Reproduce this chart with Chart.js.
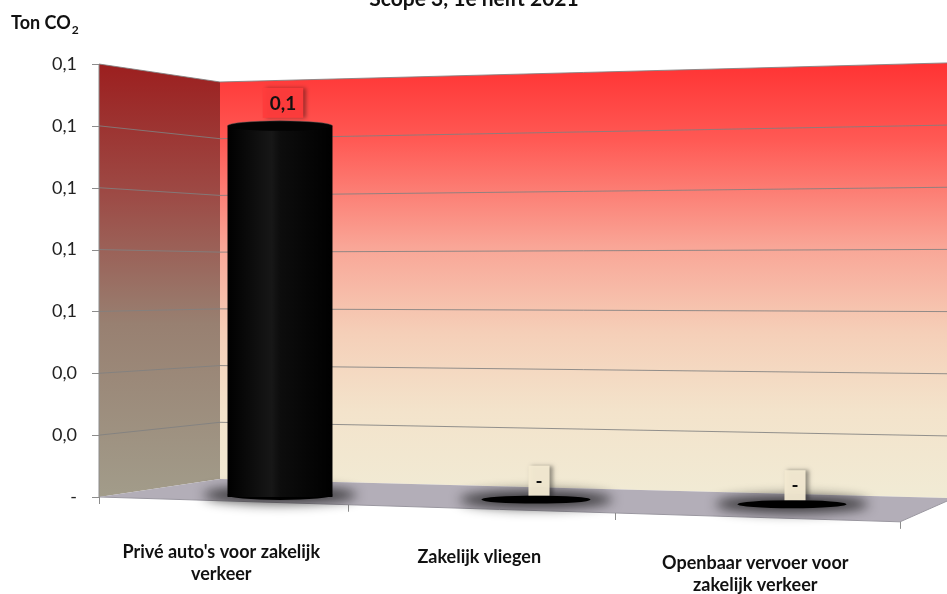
<!DOCTYPE html>
<html>
<head>
<meta charset="utf-8">
<script src="https://cdn.jsdelivr.net/npm/chart.js@4/dist/chart.umd.min.js"></script>
<style>
  html, body { margin: 0; padding: 0; background: #fff; }
</style>
</head>
<body>
<canvas id="chart" width="947" height="594"></canvas>
<script>
// ---- data -------------------------------------------------------------
const chartTitle = 'Scope 3, 1e helft 2021';
const yTitle = 'Ton CO';
const yTitleSub = '2';
const categories = [
  ["Privé auto's voor zakelijk", 'verkeer'],
  ['Zakelijk vliegen'],
  ['Openbaar vervoer voor', 'zakelijk verkeer']
];
const values = [0.12, 0, 0];
const valueLabels = ['0,1', '-', '-'];
const yTickLabels = ['-', '0,0', '0,0', '0,1', '0,1', '0,1', '0,1', '0,1'];
const Y_MAX = 0.14;
const Y_STEP = 0.02;

// ---- look -------------------------------------------------------------
const FONT = 'Lato, "Open Sans", sans-serif';
// 3D box: front-left edge, back-left corner, right edge of the back wall
const SCENE = {
  frontX: 99,
  backX: 220,
  rightX: 947,
  frontRightX: 900,
  backShrink: 0.917,
  rightGrow: 1.005,
  floorSlope: 0.031,
  baseTilt: 0.018
};

function frontOf(chart, xm) {
  // map a mid-depth x to the front edge of the floor (rough perspective)
  const a = chart.chartArea;
  const t = (xm - a.left) / (a.right - a.left);
  const span = SCENE.frontRightX - SCENE.frontX;
  return SCENE.frontX + span * t - 81 * t * (1 - t);
}

function ellipse(ctx, cx, cy, rx, ry) {
  ctx.beginPath();
  ctx.ellipse(cx, cy, rx, ry, 0, 0, Math.PI * 2);
  ctx.fill();
}

const scene3d = {
  id: 'scene3d',
  beforeDatasetsDraw(chart) {
    const { ctx, scales: { x, y } } = chart;
    const top = y.getPixelForValue(Y_MAX);
    const bot = y.getPixelForValue(0);
    const mid = (top + bot) / 2;
    const bl = fy => mid + (fy - mid) * SCENE.backShrink;
    const br = fy => mid + (fy - mid) * SCENE.rightGrow;
    const S = SCENE;

    ctx.save();
    // back wall
    let g = ctx.createLinearGradient(0, br(top), 0, br(bot));
    g.addColorStop(0, '#ff3333');
    g.addColorStop(0.18, '#ff5a55');
    g.addColorStop(0.42, '#f9a596');
    g.addColorStop(0.62, '#f5cfb8');
    g.addColorStop(0.8, '#f3e3cb');
    g.addColorStop(1, '#f1ebd5');
    ctx.fillStyle = g;
    ctx.beginPath();
    ctx.moveTo(S.backX, bl(top));
    ctx.lineTo(S.rightX, br(top));
    ctx.lineTo(S.rightX, br(bot));
    ctx.lineTo(S.backX, bl(bot));
    ctx.closePath();
    ctx.fill();

    // left wall
    g = ctx.createLinearGradient(0, top, 0, bot);
    g.addColorStop(0, '#9c1f1f');
    g.addColorStop(0.3, '#9d4a45');
    g.addColorStop(0.6, '#988071');
    g.addColorStop(1, '#a29c8a');
    ctx.fillStyle = g;
    ctx.beginPath();
    ctx.moveTo(S.frontX, top);
    ctx.lineTo(S.backX, bl(top));
    ctx.lineTo(S.backX, bl(bot));
    ctx.lineTo(S.frontX, bot);
    ctx.closePath();
    ctx.fill();

    // floor
    const frY = bot + (S.frontRightX - S.frontX) * S.floorSlope;
    ctx.fillStyle = '#b3aeb8';
    ctx.beginPath();
    ctx.moveTo(S.frontX, bot);
    ctx.lineTo(S.backX, bl(bot));
    ctx.lineTo(S.rightX, br(bot));
    ctx.lineTo(S.rightX, br(bot) + 3);
    ctx.lineTo(S.frontRightX, frY);
    ctx.closePath();
    ctx.fill();
    ctx.strokeStyle = '#9a97a0';
    ctx.lineWidth = 1;
    ctx.beginPath();
    ctx.moveTo(S.frontX, bot);
    ctx.lineTo(S.frontRightX, frY);
    ctx.lineTo(S.rightX, br(bot) + 3);
    ctx.stroke();

    // gridlines on both walls
    ctx.strokeStyle = 'rgba(128,128,128,0.85)';
    y.ticks.forEach(t => {
      const fy = y.getPixelForValue(t.value);
      if (t.value === 0) return;
      ctx.beginPath();
      ctx.moveTo(S.frontX, fy);
      ctx.lineTo(S.backX, bl(fy));
      ctx.lineTo(S.rightX, br(fy));
      ctx.stroke();
    });

    // wall edge + axis tick marks
    ctx.strokeStyle = '#8c8c8c';
    ctx.beginPath();
    ctx.moveTo(S.frontX, top);
    ctx.lineTo(S.frontX, bot);
    y.ticks.forEach(t => {
      const fy = Math.round(y.getPixelForValue(t.value)) + 0.5;
      ctx.moveTo(S.frontX - 7, fy);
      ctx.lineTo(S.frontX, fy);
    });
    // category tick marks on the front floor edge
    for (let i = 0; i <= categories.length; i++) {
      const xm = x.getPixelForValue(i - 0.5);
      const fx = Math.round(frontOf(chart, xm)) + 0.5;
      const fy = bot + (fx - S.frontX) * S.floorSlope;
      ctx.moveTo(fx, fy);
      ctx.lineTo(fx, fy + 7);
    }
    ctx.stroke();

    // soft shadows under the cylinders
    const meta = chart.getDatasetMeta(0);
    meta.data.forEach(el => {
      const baseY = el.base + (el.x - meta.data[0].x) * S.baseTilt - 2;
      ctx.save();
      ctx.filter = 'blur(6px)';
      ctx.fillStyle = 'rgba(10,10,10,0.7)';
      ellipse(ctx, el.x, baseY, el.width / 2 + 24, 9);
      ctx.restore();
    });
    ctx.restore();
  },

  afterDatasetsDraw(chart) {
    const { ctx } = chart;
    const meta = chart.getDatasetMeta(0);
    ctx.save();
    meta.data.forEach((el, i) => {
      const w = el.width;
      const baseY = el.base + (el.x - meta.data[0].x) * SCENE.baseTilt - 2;
      if (values[i] > 0) {
        // cylinder body highlight
        const g = ctx.createLinearGradient(el.x - w / 2, 0, el.x + w / 2, 0);
        g.addColorStop(0, 'rgba(255,255,255,0)');
        g.addColorStop(0.42, 'rgba(255,255,255,0.09)');
        g.addColorStop(0.5, 'rgba(255,255,255,0.05)');
        g.addColorStop(1, 'rgba(255,255,255,0)');
        ctx.fillStyle = '#000';
        ellipse(ctx, el.x, baseY, w / 2, 5);
        ctx.fillStyle = g;
        ctx.fillRect(el.x - w / 2, el.y, w, el.base - el.y);
        // top cap
        ctx.fillStyle = '#030303';
        ellipse(ctx, el.x, el.y, w / 2, 5);
        ctx.strokeStyle = 'rgba(90,90,90,0.5)';
        ctx.lineWidth = 1;
        ctx.beginPath();
        ctx.ellipse(el.x, el.y, w / 2, 5, 0, Math.PI, Math.PI * 2);
        ctx.stroke();
      } else {
        ctx.fillStyle = '#000';
        ellipse(ctx, el.x, baseY, w / 2 + 2, 4);
      }
    });

    // value labels
    ctx.font = 'bold 19px ' + FONT;
    ctx.textAlign = 'center';
    ctx.textBaseline = 'middle';
    meta.data.forEach((el, i) => {
      const baseY = el.base + (el.x - meta.data[0].x) * SCENE.baseTilt - 2;
      const anchor = values[i] > 0 ? el.y - 8 : baseY - 4;
      const tw = ctx.measureText(valueLabels[i]).width;
      const bw = tw + 14;
      const cx = el.x + 3;
      ctx.save();
      ctx.shadowColor = 'rgba(0,0,0,0.4)';
      ctx.shadowBlur = 4;
      ctx.shadowOffsetX = 3;
      ctx.fillStyle = values[i] > 0 ? 'rgba(255,60,60,0.95)' : 'rgba(243,234,210,0.95)';
      ctx.fillRect(cx - bw / 2, anchor - 30, bw, 30);
      ctx.restore();
      ctx.fillStyle = '#111';
      ctx.fillText(valueLabels[i], cx, anchor - 14);
    });
    ctx.restore();
  },

  afterDraw(chart) {
    const { ctx, scales: { x } } = chart;
    ctx.save();
    ctx.fillStyle = '#111';
    // title, mostly cut off at the top edge
    ctx.font = 'bold 21px ' + FONT;
    ctx.textAlign = 'center';
    ctx.textBaseline = 'alphabetic';
    ctx.fillText(chartTitle, 474, 6);

    // y axis title with subscript
    ctx.font = 'bold 18px ' + FONT;
    ctx.textAlign = 'left';
    ctx.fillText(yTitle, 11, 29);
    const tw = ctx.measureText(yTitle).width;
    ctx.font = 'bold 12px ' + FONT;
    ctx.fillText(yTitleSub, 11 + tw + 1, 34);

    // category labels along the tilted front edge
    ctx.font = 'bold 18px ' + FONT;
    ctx.textAlign = 'center';
    ctx.textBaseline = 'middle';
    categories.forEach((lines, i) => {
      const fx = frontOf(chart, x.getPixelForValue(i));
      const y0 = 550 + (fx - SCENE.frontX) * 0.02;
      lines.forEach((ln, k) => ctx.fillText(ln, fx, y0 + k * 22));
    });
    ctx.restore();
  }
};

const ctx = document.getElementById('chart').getContext('2d');
new Chart(ctx, {
  type: 'bar',
  data: {
    labels: categories,
    datasets: [{
      data: values,
      backgroundColor: '#000',
      borderWidth: 0,
      categoryPercentage: 1,
      barPercentage: 0.41
    }]
  },
  options: {
    responsive: false,
    animation: false,
    layout: { padding: { top: 64, bottom: 97, right: 27, left: 0 } },
    plugins: {
      legend: { display: false },
      tooltip: { enabled: false }
    },
    scales: {
      x: {
        grid: { display: false, drawTicks: false },
        border: { display: false },
        ticks: { display: false },
        afterFit: s => { s.height = 0; }
      },
      y: {
        min: 0,
        max: Y_MAX,
        grid: { display: false, drawTicks: false },
        border: { display: false },
        ticks: {
          stepSize: Y_STEP,
          padding: 75,
          color: '#222',
          font: { family: FONT, size: 18 },
          callback: (v, i) => yTickLabels[i]
        },
        afterFit: s => {
          // the big label padding should not push the plot area down
          s.width = 152;
          s.paddingTop = 0;
          s.paddingBottom = 0;
        }
      }
    }
  },
  plugins: [scene3d]
});
</script>
</body>
</html>
